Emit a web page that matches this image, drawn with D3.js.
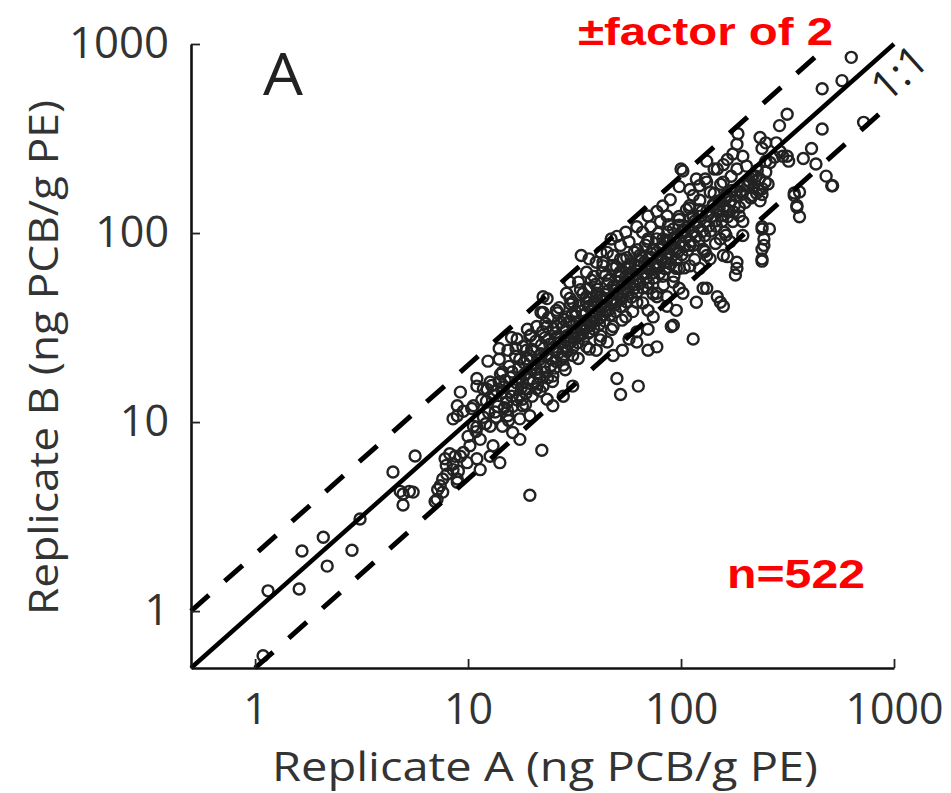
<!DOCTYPE html>
<html><head><meta charset="utf-8">
<script src="https://cdn.jsdelivr.net/npm/d3@7/dist/d3.min.js"></script>
<style>body{margin:0;background:#fff}</style>
</head><body>
<script>
// ---- data (ng PCB / g PE) ----
const sparseLow = [[1.09,0.58],[1.15,1.28],[1.61,1.31],[1.66,2.08],[2.09,2.46],[2.18,1.73],[2.85,2.1],[3.11,3.07],[4.44,5.44],[5.64,6.61],[4.95,3.64],[4.95,4.16],[5.52,4.26],[4.8,4.3],[5.3,4.3]];
const lowerCloud = [[7.15,3.9],[7.6,4.26],[7.4,4.6],[7.95,5.3],[8.5,6.0],[8.9,4.8],[9.2,6.6],[9.9,6.1],[8.2,6.8],[9.0,5.5],[8.9,10.8],[9.5,11.4],[10.6,9.5],[10.6,12.2],[7.0,3.8],[7.2,4.4],[7.6,5.0],[7.9,5.9],[7.8,6.4],[8.7,6.6],[8.9,5.0],[8.5,5.6],[9.5,6.9],[10.2,7.5],[11.0,6.4],[11.4,5.6],[12.7,6.6],[14.1,6.1],[13.1,7.5],[11.4,8.1],[10,8.4],[9.2,14.4],[11,9.4],[11.8,10.6],[13.4,11.3],[12.7,9.5],[14.5,9.5],[15.4,10.8],[17.5,10.4],[19.5,10.8],[17.5,8.1],[16.2,8.8],[22.2,7.1],[19.5,4.1],[11,15.5],[12.3,14.9],[14.5,14.4],[15.2,12.7],[18,13.2],[21,15],[23.5,13.2],[25,12.2],[28,13.7],[31,15.5],[8.9,12.2],[8.5,10.4],[11,17],[12.4,21],[14,24.5],[17,27.5],[19,31],[22,38],[22.5,46],[34,76]];
const midCloud = [[16,28],[15.4,24],[14,21.5],[14.5,18.4],[12.7,16.3],[11.8,15],[17.5,21.5],[18.8,24],[19.5,28.5],[23.5,32],[22.5,38],[26,39],[29,48],[31,43],[33,55],[36,62],[40,70],[43,70],[48,65],[52,73],[55,65],[62,57],[70,73],[77,65],[86,73],[92,55],[86,46],[90,32],[77,25],[70,24],[50,17],[63,15.5],[52,14],[27,27.5],[31,30],[35,33],[39,36],[42,41],[45,45],[50,48],[55,51],[62,43],[55,36],[48,32],[42,28.5],[36,25],[31,22.5],[28,20],[25,17.5],[22.5,15.5],[20,13.7],[18,12.2],[16,13.7],[15.2,12.7],[14,16.3],[18,16.3],[21,19],[23.5,22.5],[26,24],[29,24],[33,28.5],[37,30],[40,24],[45,26.5],[48,22.5],[53,24],[57,27.5],[62,30],[70,31],[74,36],[70,39],[77,48],[86,41],[95,39],[98,51],[95,65],[40,46],[36,46],[29,36],[26,32],[21,32],[23.5,45],[30,55],[37,73],[45,79],[92,32.5],[114,27.5],[62,26.5]];
const upperCloud = [[100,218],[132,240],[148,218],[165,245],[183,218],[203,226],[215,200],[250,240],[232,170],[240,160],[240,108],[245,93],[240,82],[240,73],[183,70],[183,65],[165,75],[153,93],[195,97],[175,115],[188,123],[165,133],[148,133],[122,133],[114,123],[106,133],[98,118],[86,123],[80,115],[72,108],[66,101],[55,101],[50,96],[47,93],[42,79],[98,176],[110,170],[118,193],[132,186],[89,150],[82,139],[77,130],[70,123],[62,108],[57,90],[52,86],[48,76],[43,67],[39,59],[64,76],[74,82],[86,90],[95,82],[110,86],[127,82],[137,73],[122,65],[132,51],[148,46],[153,43],[118,43],[102,48],[82,59],[77,46],[70,51],[98,65],[110,67],[77,67],[52,59],[57,67],[48,52],[42,46],[37,51],[170,90],[160,101],[92,105],[102,101],[114,101],[70,93],[82,93]];
const topCloud = [[630,850],[570,640],[460,580],[720,385],[460,355],[315,425],[290,370],[235,320],[240,280],[185,335],[183,295],[175,262],[195,255],[158,230],[143,218],[130,193],[122,178],[102,213],[114,158],[110,140],[143,162],[158,186],[210,186],[225,200],[250,210],[215,158],[235,148],[315,255],[320,240],[375,248],[410,280],[430,232],[480,200],[515,178],[340,163],[350,140],[300,255],[280,300],[250,300],[240,105],[260,105],[245,86],[240,71],[180,60],[340,158],[350,137],[360,122],[360,165],[510,178],[158,76],[195,115],[132,76],[127,51],[158,41]];
const coreCloud = [[12.5,11.2],[13.2,13.8],[13.8,12.1],[14.6,15.3],[15.1,13.4],[15.8,17.2],[16.4,14.8],[16.9,16.1],[17.3,19.4],[17.8,15.2],[18.4,17.9],[18.9,21.6],[19.3,16.8],[19.8,19.2],[20.4,23.8],[20.9,18.1],[21.5,21.3],[22.1,25.6],[22.7,19.7],[23.3,22.8],[23.9,27.4],[24.6,21.5],[25.2,24.9],[25.8,29.7],[26.5,23.1],[27.1,26.4],[27.8,31.8],[28.4,25.2],[29.1,28.6],[29.8,33.9],[30.5,26.8],[31.2,30.1],[32,36.4],[32.7,28.3],[33.5,32.2],[34.2,38.7],[35,30.6],[35.8,34.4],[36.7,40.9],[37.5,32.3],[38.4,36.8],[39.2,43.5],[40.1,34.6],[41,39.1],[42,46.2],[42.9,36.9],[43.9,41.5],[44.9,49.1],[45.9,39.2],[46.9,44.4],[48,52.1],[49.1,41.8],[50.2,47.3],[51.3,55.4],[52.5,44.6],[53.7,50.2],[54.9,58.6],[56.1,47.5],[57.4,53.6],[58.7,62.1],[60,50.6],[61.4,57.1],[62.8,66.2],[64.2,54.1],[65.7,60.8],[67.2,70.1],[68.7,57.8],[70.3,64.9],[71.9,74.6],[73.5,61.5],[75.2,69.1],[76.9,79.3],[78.7,65.6],[80.5,73.6],[82.3,84.4],[84.2,70.1],[86.1,78.4],[88.1,89.9],[90.1,74.6],[92.2,83.5],[94.3,95.6],[96.4,79.4],[98.6,88.9],[101,101.8],[103.2,84.6],[105.6,94.7],[108,108.4],[110.5,90.1],[113,100.9],[115.6,115.4],[118.2,95.9],[120.9,107.4],[123.7,122.9],[126.5,102.2],[129.4,114.4],[132.4,130.8],[135.4,108.8],[138.5,121.8],[141.7,139.3],[145,115.9],[148.3,129.7],[151.7,148.3],[155.2,123.4],[158.7,138.1],[162.4,157.9],[166.1,131.4],[170,147.1],[173.9,168.1],[177.9,140],[182,156.6],[190,166],[198,178],[207,190],[218,201],[228,214],[262,236],[275,252],[292,270]];
const wideCloud = [[15.5,10.2],[16.8,24.5],[18.6,12.4],[19.7,28.9],[21.8,14.6],[23.1,33.2],[24.9,16.4],[26.3,37.8],[28.6,18.9],[30.3,42.1],[32.9,21.7],[34.6,47.8],[37.1,24.3],[39.6,53.4],[41.7,27.2],[44.3,59.8],[47.2,30.9],[49.8,66.4],[52.8,34.6],[55.6,74.1],[59.3,38.4],[62.4,81.6],[66.1,42.7],[69.8,90.3],[73.9,47.6],[78.2,99.8],[82.7,53.2],[87.4,110.6],[92.6,59.1],[97.8,122.3],[103.5,65.4],[109.4,135.6],[115.8,72.3],[122.5,149.2],[129.6,79.8],[137.1,164.5],[145.2,88.1],[153.6,181.3],[162.5,97.4],[172,199.6]];
const denseFill = [[10.4,11.8],[10.9,8.9],[11.6,13.1],[12.1,9.8],[12.9,15.6],[13.5,10.6],[14.2,17.9],[14.8,11.9],[15.6,19.7],[16.2,12.1],[16.7,22.3],[17.4,13.9],[18.1,25.1],[18.7,14.2],[19.5,22.4],[20.2,16.3],[20.8,26.8],[21.7,17.2],[22.4,30.1],[23.0,18.4],[23.8,35.6],[24.4,19.8],[25.1,31.2],[25.9,20.9],[26.8,40.3],[27.5,22.1],[28.3,34.9],[29.2,23.6],[30.1,45.2],[31.0,24.8],[31.9,38.6],[32.8,26.3],[33.7,50.1],[34.8,27.4],[35.9,43.2],[36.8,29.6],[37.9,56.3],[39.0,31.0],[40.3,48.1],[41.4,32.8],[42.6,61.7],[43.8,34.2],[45.1,53.8],[46.4,36.7],[47.8,67.4],[49.2,38.5],[50.7,59.2],[52.1,40.9],[53.6,72.6],[55.3,43.3],[56.9,65.1],[58.5,45.8],[60.4,79.2],[62.1,48.6],[64.0,71.4],[66.0,51.2],[68.1,86.3],[70.2,54.7],[72.3,78.2],[74.5,57.9],[76.8,93.1],[79.2,61.2],[81.6,85.6],[84.1,64.8],[86.7,101.4],[89.4,68.6],[92.2,94.1],[95.0,72.3],[98.0,109.9],[101.0,76.8],[104.2,103.2],[107.4,81.2],[110.8,119.3],[114.3,86.1],[117.9,112.7],[121.6,91.2],[125.4,130.2],[129.3,96.7],[133.4,123.3],[137.6,102.4],[141.9,142.1],[146.4,108.5],[151,134.8],[155.8,115.2],[160.7,153.6],[165.8,121.9],[171,147.2],[176.4,129.3],[182,168.1],[187.7,136.8],[193.6,160.3],[199.8,145.1],[206,181],[212.6,153.2],[219.3,173.4],[226.2,162.4],[233.4,194.6],[240.8,171.7],[248.4,186.2],[256.3,181.9]];
const bandFill = [[12.2,12.9],[13.6,14.7],[14.9,16.6],[15.3,11.6],[16.1,18.4],[17.0,13.1],[17.6,17.0],[18.3,20.6],[19.0,15.0],[19.9,24.3],[20.6,20.1],[21.2,15.9],[22.0,23.0],[22.9,27.9],[23.6,17.1],[24.2,25.8],[25.5,19.3],[26.2,28.3],[27.3,33.6],[28.0,21.9],[28.9,30.8],[29.6,26.0],[30.8,36.8],[31.6,27.6],[32.4,33.3],[33.2,41.3],[34.0,29.0],[35.4,37.2],[36.2,31.8],[37.0,44.6],[38.1,34.1],[38.9,41.8],[39.8,37.8],[40.7,50.4],[41.8,35.5],[43.3,45.0],[44.5,38.3],[45.6,56.4],[47.5,42.3],[48.6,49.8],[50.0,43.6],[51.8,62.3],[53.1,46.7],[54.3,54.7],[56.4,49.9],[58.0,68.6],[59.8,53.2],[61.8,60.3],[63.5,56.0],[65.3,74.4],[67.8,61.1],[69.4,67.6],[71.5,63.8],[74.1,81.4],[76.2,67.8],[79.0,75.3],[81.0,71.7],[84.8,92.0],[87.8,77.9],[90.5,86.2]];

const majorTicks = [1, 10, 100, 1000];
const minorTicks = [0.6,0.7,0.8,0.9,2,3,4,5,6,7,8,9,20,30,40,50,60,70,80,90,200,300,400,500,600,700,800,900];
const refRatios = [2, 1, 0.5];          // ±factor of 2 and 1:1
const domainMin = 0.5, domainMax = 1000;

const points = [].concat(sparseLow, lowerCloud, midCloud, upperCloud, topCloud, coreCloud, wideCloud, denseFill, bandFill);

// ---- drawing ----
const W = 951, H = 793;
const svg = d3.select("body").append("svg").attr("width", W).attr("height", H);
const defs = svg.append("defs");
defs.append("filter").attr("id", "soft").attr("x", "-5%").attr("y", "-5%").attr("width", "110%").attr("height", "110%")
  .append("feGaussianBlur").attr("stdDeviation", 0.45);

const x = d3.scaleLog().domain([domainMin, domainMax]).range([191, 894]);
const y = d3.scaleLog().domain([domainMin, domainMax]).range([668, 44]);

const tickFont = "'Open Sans', sans-serif";

// points
svg.append("g").attr("filter", "url(#soft)")
  .selectAll("circle").data(points).join("circle")
  .attr("cx", d => x(d[0])).attr("cy", d => y(d[1])).attr("r", 5.5)
  .attr("fill", "none").attr("stroke", "#222").attr("stroke-width", 2.4);

// reference lines
refRatios.forEach(r => {
  const x0 = Math.max(domainMin, domainMin / r);
  const x1 = Math.min(domainMax, domainMax / r);
  svg.append("line")
    .attr("x1", x(x0)).attr("y1", y(x0 * r))
    .attr("x2", x(x1)).attr("y2", y(x1 * r))
    .attr("stroke", "#000")
    .attr("stroke-width", r === 1 ? 4.5 : 5)
    .attr("stroke-dasharray", r === 1 ? null : "24 21");
});

// axes
const gx = svg.append("g").attr("transform", `translate(0,${668})`);
gx.call(d3.axisBottom(x).tickValues(minorTicks).tickFormat("").tickSizeInner(-5).tickSizeOuter(0));
gx.call(d3.axisBottom(x).tickValues(majorTicks).tickFormat(d3.format("d")).tickSizeInner(-9).tickSizeOuter(0).tickPadding(25));
const gy = svg.append("g").attr("transform", `translate(${191},0)`);
gy.call(d3.axisLeft(y).tickValues(minorTicks).tickFormat("").tickSizeInner(-5).tickSizeOuter(0));
gy.call(d3.axisLeft(y).tickValues(majorTicks).tickFormat(d3.format("d")).tickSizeInner(-9).tickSizeOuter(0).tickPadding(22));
svg.selectAll(".domain").attr("stroke", "#111").attr("stroke-width", 2.6);
svg.selectAll(".tick line").attr("stroke", "#222").attr("stroke-width", 1.8);
svg.selectAll(".tick text").attr("font-family", tickFont).attr("font-size", 43).attr("fill", "#333");
gy.selectAll(".tick text").filter(d => d === 1000).attr("textLength", 100).attr("lengthAdjust", "spacingAndGlyphs");
gx.selectAll(".tick text").filter(d => d === 1000).attr("textLength", 98).attr("lengthAdjust", "spacingAndGlyphs");

// axis titles
svg.append("text").attr("x", 272).attr("y", 781)
  .attr("font-family", tickFont).attr("font-size", 40).attr("fill", "#333")
  .attr("textLength", 546).attr("lengthAdjust", "spacingAndGlyphs")
  .text("Replicate A (ng PCB/g PE)");
svg.append("text").attr("transform", "translate(58,615) rotate(-90)")
  .attr("font-family", tickFont).attr("font-size", 40).attr("fill", "#333")
  .attr("textLength", 515).attr("lengthAdjust", "spacingAndGlyphs")
  .text("Replicate B (ng PCB/g PE)");

// panel letter
svg.append("text").attr("x", 283).attr("y", 95).attr("text-anchor", "middle")
  .attr("font-family", tickFont).attr("font-size", 58).attr("fill", "#222")
  .attr("textLength", 40).attr("lengthAdjust", "spacingAndGlyphs")
  .text("A");

// 1:1 label
svg.append("text").attr("transform", "translate(909,84) rotate(-42)").attr("text-anchor", "middle")
  .attr("font-family", tickFont).attr("font-size", 42).attr("fill", "#222")
  .text("1:1");

// red annotations
svg.append("text").attr("x", 578).attr("y", 45)
  .attr("font-family", "'Liberation Sans', Arial, sans-serif").attr("font-weight", "bold")
  .attr("font-size", 38).attr("fill", "#ff0000")
  .attr("textLength", 255).attr("lengthAdjust", "spacingAndGlyphs")
  .text("±factor of 2");
svg.append("text").attr("x", 727).attr("y", 588)
  .attr("font-family", "'Liberation Sans', Arial, sans-serif").attr("font-weight", "bold")
  .attr("font-size", 40).attr("fill", "#ff0000")
  .attr("textLength", 138).attr("lengthAdjust", "spacingAndGlyphs")
  .text("n=522");
</script>
</body></html>
